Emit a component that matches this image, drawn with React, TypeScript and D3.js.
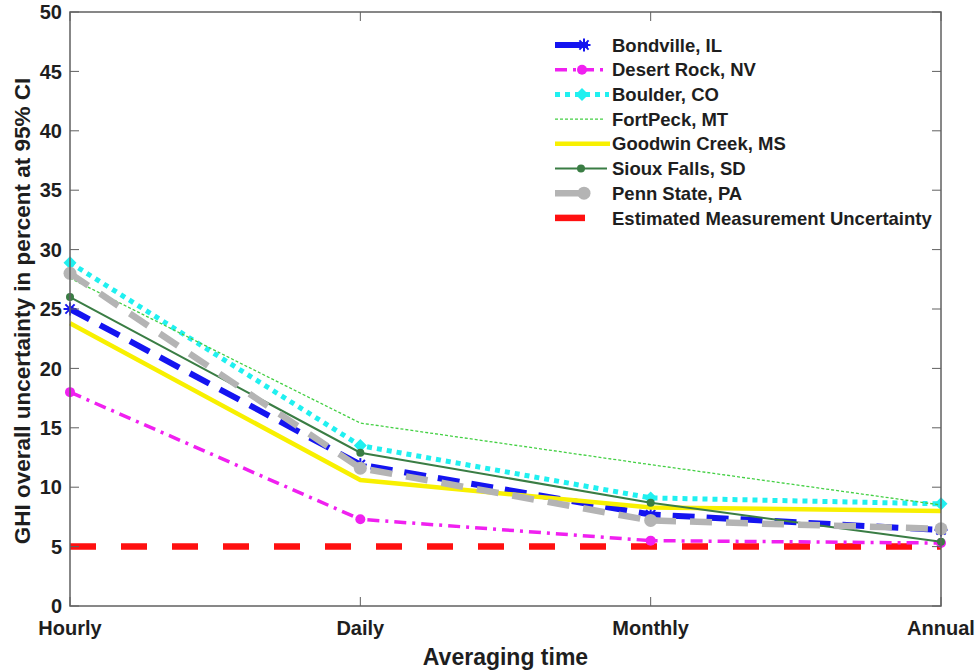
import React from "react";
import * as d3 from "d3";

const categories = ["Hourly", "Daily", "Monthly", "Annual"];
const yTicks = [0, 5, 10, 15, 20, 25, 30, 35, 40, 45, 50];

const bondville = [25.0, 11.9, 7.7, 6.4];
const desertRock = [18.0, 7.3, 5.5, 5.3];
const boulder = [28.9, 13.5, 9.1, 8.6];
const fortPeck = [27.6, 15.4, 11.9, 8.5];
const goodwinCreek = [23.8, 10.6, 8.3, 8.0];
const siouxFalls = [26.0, 12.9, 8.7, 5.4];
const pennState = [28.0, 11.6, 7.2, 6.5];
const measurement = [5, 5, 5, 5];

const seriesNames = [
  "Bondville, IL",
  "Desert Rock, NV",
  "Boulder, CO",
  "FortPeck, MT",
  "Goodwin Creek, MS",
  "Sioux Falls, SD",
  "Penn State, PA",
  "Estimated Measurement Uncertainty",
];

type Style = {
  color: string;
  width: number;
  dash?: string;
  marker?: "asterisk" | "circle" | "diamond" | "dot" | "bigcircle";
  legendLen: number;
};

const styles: Style[] = [
  { color: "#1414f0", width: 6, dash: "22,12", marker: "asterisk", legendLen: 33 },
  { color: "#f020f0", width: 3.5, dash: "12,6,3,6", marker: "circle", legendLen: 54 },
  { color: "#20f0f0", width: 5, dash: "5,5", marker: "diamond", legendLen: 54 },
  { color: "#44d044", width: 1.3, dash: "3,2", legendLen: 48 },
  { color: "#f8f000", width: 4.5, legendLen: 55 },
  { color: "#3a7d44", width: 2, marker: "dot", legendLen: 52 },
  { color: "#b4b4b4", width: 6.5, dash: "22,14", marker: "bigcircle", legendLen: 33 },
  { color: "#ff1010", width: 6.5, dash: "26,25", legendLen: 30 },
];

const allSeries = [bondville, desertRock, boulder, fortPeck, goodwinCreek, siouxFalls, pennState, measurement];

const W = 979;
const H = 671;
const left = 70;
const right = 941;
const top = 12;
const bottom = 606;

function Marker({ type, x, y, color }: { type?: string; x: number; y: number; color: string }) {
  if (!type) return null;
  if (type === "asterisk") {
    const r = 6.5;
    const lines = [0, 45, 90, 135].map((a) => {
      const rad = (a * Math.PI) / 180;
      return (
        <line key={a} x1={x - r * Math.cos(rad)} y1={y - r * Math.sin(rad)} x2={x + r * Math.cos(rad)} y2={y + r * Math.sin(rad)} stroke={color} strokeWidth={2} />
      );
    });
    return <g>{lines}</g>;
  }
  if (type === "circle") return <circle cx={x} cy={y} r={5} fill={color} />;
  if (type === "bigcircle") return <circle cx={x} cy={y} r={6.5} fill={color} />;
  if (type === "dot") return <circle cx={x} cy={y} r={4} fill={color} />;
  if (type === "diamond") {
    const r = 6.5;
    return <path d={`M${x},${y - r}L${x + r},${y}L${x},${y + r}L${x - r},${y}Z`} fill={color} />;
  }
  return null;
}

export default function App() {
  const x = d3.scalePoint<string>().domain(categories).range([left, right]);
  const y = d3.scaleLinear().domain([0, 50]).range([bottom, top]);
  const line = d3
    .line<number>()
    .x((_, i) => x(categories[i]) as number)
    .y((d) => y(d));

  const axisColor = "#606060";
  const textColor = "#1e1e1e";
  const font = "'Liberation Sans', Arial, sans-serif";

  const legendX0 = 555;
  const legendTextX = 612;
  const legendY0 = 45;
  const legendDy = 24.7;

  const order = [7, 0, 1, 2, 3, 4, 5, 6];

  return (
    <div style={{ position: "fixed", left: 0, top: 0, width: W, height: H, overflow: "hidden" }}>
      <svg width={W} height={H} style={{ display: "block", background: "#fff" }}>
        {order.map((si) => {
          const s = styles[si];
          const data = allSeries[si];
          return (
            <g key={si}>
              <path d={line(data) || ""} fill="none" stroke={s.color} strokeWidth={s.width} strokeDasharray={s.dash} />
              {data.map((v, i) => (
                <Marker key={i} type={s.marker} x={x(categories[i]) as number} y={y(v)} color={s.color} />
              ))}
            </g>
          );
        })}

        <rect x={left} y={top} width={right - left} height={bottom - top} fill="none" stroke={axisColor} strokeWidth={1.5} />
        {yTicks.map((t) => (
          <g key={t}>
            <line x1={left} x2={left + 9} y1={y(t)} y2={y(t)} stroke={axisColor} strokeWidth={1} />
            <line x1={right} x2={right - 9} y1={y(t)} y2={y(t)} stroke={axisColor} strokeWidth={1} />
            <text x={left - 8} y={y(t)} dy="0.36em" textAnchor="end" fontFamily={font} fontWeight="bold" fontSize={20} fill={textColor}>
              {t}
            </text>
          </g>
        ))}
        {categories.map((c) => (
          <g key={c}>
            <line x1={x(c)} x2={x(c)} y1={bottom} y2={bottom - 9} stroke={axisColor} strokeWidth={1} />
            <line x1={x(c)} x2={x(c)} y1={top} y2={top + 9} stroke={axisColor} strokeWidth={1} />
            <text x={x(c)} y={bottom + 29} textAnchor="middle" fontFamily={font} fontWeight="bold" fontSize={20} fill={textColor}>
              {c}
            </text>
          </g>
        ))}
        <text x={(left + right) / 2} y={665} textAnchor="middle" fontFamily={font} fontWeight="bold" fontSize={23} fill={textColor}>
          Averaging time
        </text>
        <text
          transform={`translate(30,311) rotate(-90)`}
          textAnchor="middle"
          fontFamily={font}
          fontWeight="bold"
          fontSize={22.5}
          fill={textColor}
        >
          GHI overall uncertainty in percent at 95% CI
        </text>

        {seriesNames.map((name, i) => {
          const s = styles[i];
          const ly = legendY0 + i * legendDy;
          const x1 = legendX0;
          const x2 = legendX0 + s.legendLen;
          const mx = s.legendLen < 40 ? x2 - 4 : (x1 + x2) / 2;
          return (
            <g key={name}>
              <line x1={x1} x2={x2} y1={ly} y2={ly} stroke={s.color} strokeWidth={s.width} strokeDasharray={s.legendLen < 40 ? undefined : s.dash} />
              <Marker type={s.marker} x={mx} y={ly} color={s.color} />
              <text x={legendTextX} y={ly} dy="0.36em" fontFamily={font} fontWeight="bold" fontSize={18.5} fill={textColor}>
                {name}
              </text>
            </g>
          );
        })}
      </svg>
    </div>
  );
}
